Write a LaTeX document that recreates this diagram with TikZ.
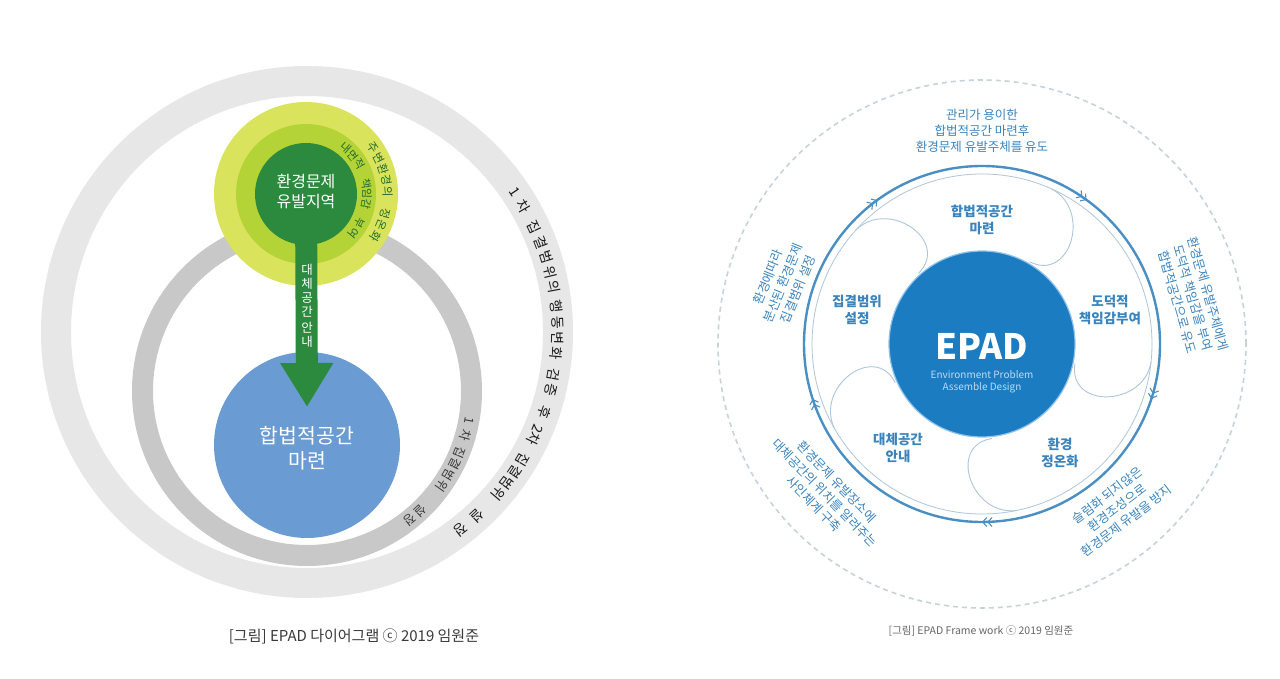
\documentclass[tikz,border=0pt]{standalone}
\usepackage{fontspec}
\newfontfamily\kr{Noto Sans CJK KR}
\usetikzlibrary{arrows.meta,calc}
\definecolor{ringA}{HTML}{E7E7E7}
\definecolor{ringB}{HTML}{C8C8C8}
\definecolor{ylw}{HTML}{D9E35B}
\definecolor{lgr}{HTML}{B4D336}
\definecolor{dgr}{HTML}{2B8A3E}
\definecolor{gtext}{HTML}{1F6B2E}
\definecolor{bluec}{HTML}{6A9BD2}
\definecolor{epadc}{HTML}{1C7CC2}
\definecolor{epadrim}{HTML}{8FC3EC}
\definecolor{lblue}{HTML}{3A84BD}
\definecolor{thickc}{HTML}{4A8FC4}
\definecolor{thinc}{HTML}{AFC6DA}
\definecolor{dashc}{HTML}{C6D2DC}
\definecolor{captc}{HTML}{3A3A3A}
\definecolor{captr}{HTML}{666666}
\newcommand\fsz[2]{\fontsize{#1}{#2}\selectfont}
\tikzset{
  ring/.style={circle, minimum size=#1},
  disc/.style={circle, minimum size=#1},
  outtext/.style={text=lblue, font=\kr\fsz{12.5}{16}, align=center},
  seclabel/.style={text=lblue, font=\kr\fsz{13.5}{16.5}\bfseries, align=center},
  petal/.style={draw=thinc, line width=0.9pt},
  arcchar/.style={font=\kr\fsz{#1}{#1}, anchor=center},
}
\begin{document}
\begin{tikzpicture}[x=1pt,y=1pt, every node/.style={inner sep=0pt, outer sep=0pt}]
\fill[white] (0,0) rectangle (1280,-679);
\useasboundingbox (0,0) rectangle (1280,-679);
% ---------------- left diagram ----------------
\coordinate (L) at (307,-332);
\coordinate (I) at (307,-391);
\coordinate (G) at (306,-194);
\node[ring=502pt, draw=ringA, line width=30pt] (outerring) at (L) {};
\node[ring=329pt, draw=ringB, line width=21pt] (innerring) at (I) {};
\node[disc=184pt, fill=ylw] (ylwc) at (G) {};
\node[disc=140pt, fill=lgr] (lgrc) at (G) {};
\node[disc=102pt, fill=dgr] (dgrc) at (G) {};
\node[disc=186pt, fill=bluec] (bluecirc) at (307,-445) {};
\coordinate (tip) at (307,-407);
\draw[dgr, line width=22pt, -{Triangle[length=44pt,width=50pt]}] (dgrc.center) -- (tip);
\node[text=white, font=\kr\fsz{16}{20}, align=center] (srcl) at (306,-191) {환경문제\\유발지역};
\node[text=white, font=\kr\fsz{12.5}{14}, align=center] (arrl) at (307,-306) {대\\체\\공\\간\\[2pt]안\\내};
\node[text=white, font=\kr\fsz{20.5}{25}, align=center] (bluel) at (307,-448) {합법적공간\\마련};
% texts set round the rings, one character at a time
\foreach \a/\c [count=\i] in {34.0/1, 30.1/차, 24.8/집, 21.0/결, 17.3/범, 13.7/위, 10.4/의, 5.8/행, 2.0/동, -1.4/변, -4.8/화, -9.8/검, -13.3/증, -18.7/후, -22.8/2, -25.3/차, -30.6/집, -33.9/결, -37.1/범, -40.3/위, -47.2/설, -52.1/정}
  \node[arcchar=14, text=black!90, rotate=\a-90] (oc\i) at ($(L)+(\a:250.5)$) {\c};
\foreach \a/\c [count=\i] in {-10.5/1, -15.7/차, -22.0/집, -26.2/결, -30.5/범, -35.1/위, -46.5/설, -51.5/정}
  \node[arcchar=12.5, text=captc, rotate=\a-90] (ic\i) at ($(I)+(\a:165)$) {\c};
\foreach \a/\c [count=\i] in {49/내, 39/면, 29.5/적, 10/책, 0/임, -10/감, -28/부, -39.5/여}
  \node[arcchar=11, text=gtext, rotate=\a-90] (mc\i) at ($(G)+(\a:61)$) {\c};
\foreach \a/\c [count=\i] in {34.7/주, 26.3/변, 17.8/환, 9.6/경, 1.4/의, -14.2/정, -22.6/온, -31/화}
  \node[arcchar=11.5, text=gtext, rotate=\a-90] (yc\i) at ($(G)+(\a:81.5)$) {\c};
\node[text=captc, font=\kr\fsz{15}{18}] (capl) at (354,-636) {[그림] EPAD 다이어그램 ⓒ 2019 임원준};
% ---------------- right diagram ----------------
\coordinate (C) at (982,-344);
\node[ring=528pt, draw=dashc, line width=1.6pt, dash pattern=on 5pt off 4pt] (dashring) at (C) {};
\node[ring=356pt, draw=thickc, line width=2.4pt] (thickring) at (C) {};
\node[ring=340pt, draw=thinc, line width=0.8pt] (thinring) at (C) {};
\foreach \p in {126,54,-18,-90,-162}{
  \draw[petal] ($(C)+(\p+6:95)$) .. controls +(\p-81:46) and +(\p-81:46) .. ($(C)+(\p+12:170)$);
  \draw[thickc, line width=1.1pt, -{Straight Barb[length=4pt,width=9pt] Straight Barb[length=4pt,width=9pt]}]
    ($(C)+(\p+4:178)$) arc[start angle=\p+4, end angle=\p, radius=178];
}
\node[disc=186pt, fill=epadc, draw=epadrim, line width=1.2pt] (epad) at (C) {};
\node[text=white, font=\kr\fsz{35}{35}\bfseries] (epadt) at (982,-346) {EPAD};
\node[text=epadrim!60!white, font=\kr\fsz{10}{12}, align=center] (epads) at (982,-382) {Environment Problem\\Assemble Design};
\node[seclabel] (s1) at (982,-220) {합법적공간\\마련};
\node[seclabel] (s2) at (1110,-310) {도덕적\\책임감부여};
\node[seclabel] (s3) at (1060,-453) {환경\\정온화};
\node[seclabel] (s4) at (898,-448) {대체공간\\안내};
\node[seclabel] (s5) at (857,-310) {집결범위\\설정};
\node[outtext] (o1) at (982,-131) {관리가 용이한\\합법적공간 마련후\\환경문제 유발주체를 유도};
\node[outtext, rotate=-74] (o2) at (1193,-298) {환경문제 유발주체에게\\도덕적 책임감을 부여\\합법적공간으로 유도};
\node[outtext, rotate=-46] (o3) at (825,-493) {환경문제 유발장소에\\대체공간의 위치를 알려주는\\사인체계 구축};
\node[outtext, rotate=37] (o4) at (1117,-508) {슬럼화 되지않은\\환경조성으로\\환경문제 유발을 방지};
\node[outtext, rotate=68] (o5) at (783,-283) {환경에따라\\분산된 환경문제\\집결범위 설정};
\node[text=captr, font=\kr\fsz{10.5}{12}] (capr) at (981,-631) {[그림] EPAD Frame work ⓒ 2019 임원준};
\end{tikzpicture}
\end{document}
